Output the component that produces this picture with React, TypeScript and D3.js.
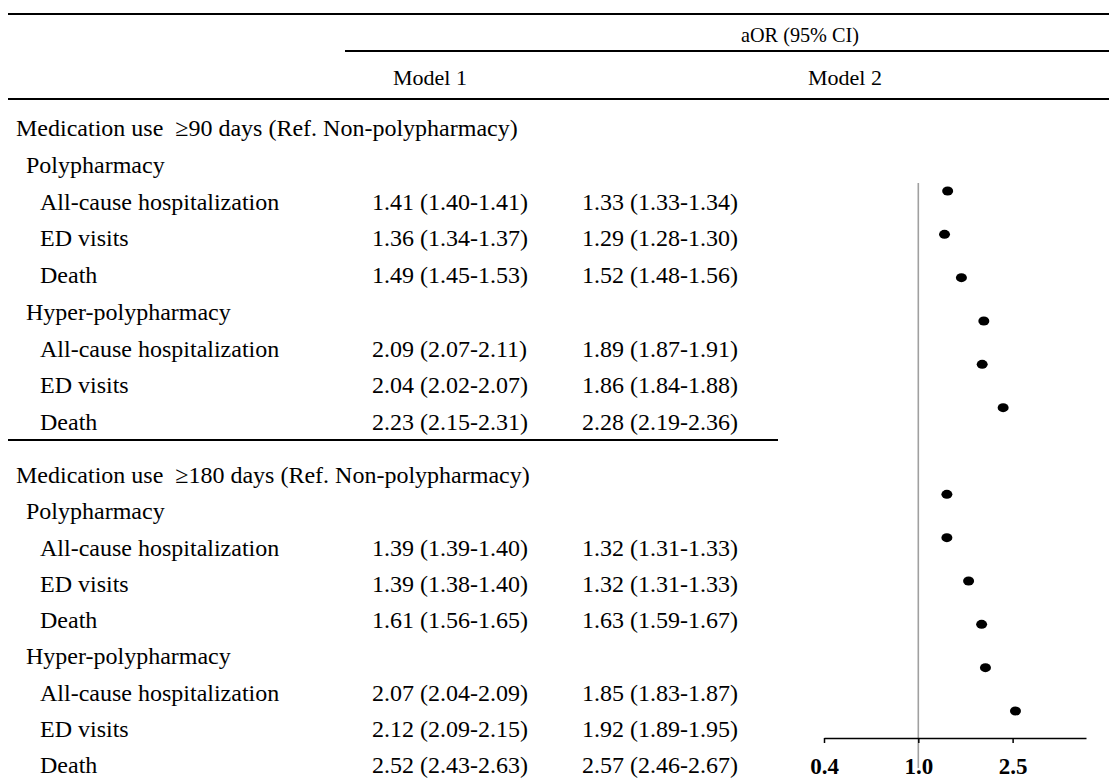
import React, { useEffect, useRef } from 'react';
import * as d3 from 'd3';

const sections = [
  'Medication use  \u226590 days (Ref. Non-polypharmacy)',
  'Medication use  \u2265180 days (Ref. Non-polypharmacy)',
];
const groups = ['Polypharmacy', 'Hyper-polypharmacy'];
const outcomes = ['All-cause hospitalization', 'ED visits', 'Death'];

// section 1 polypharmacy, hyper; section 2 polypharmacy, hyper
const m1Est = [1.41, 1.36, 1.49, 2.09, 2.04, 2.23, 1.39, 1.39, 1.61, 2.07, 2.12, 2.52];
const m1Lo = [1.40, 1.34, 1.45, 2.07, 2.02, 2.15, 1.39, 1.38, 1.56, 2.04, 2.09, 2.43];
const m1Hi = [1.41, 1.37, 1.53, 2.11, 2.07, 2.31, 1.40, 1.40, 1.65, 2.09, 2.15, 2.63];
const m2Est = [1.33, 1.29, 1.52, 1.89, 1.86, 2.28, 1.32, 1.32, 1.63, 1.85, 1.92, 2.57];
const m2Lo = [1.33, 1.28, 1.48, 1.87, 1.84, 2.19, 1.31, 1.31, 1.59, 1.83, 1.89, 2.46];
const m2Hi = [1.34, 1.30, 1.56, 1.91, 1.88, 2.36, 1.33, 1.33, 1.67, 1.87, 1.95, 2.67];

const headerTop = 'aOR (95% CI)';
const modelNames = ['Model 1', 'Model 2'];
const axisTicks = [0.4, 1.0, 2.5];

const fmt = (e: number, lo: number, hi: number) =>
  `${e.toFixed(2)} (${lo.toFixed(2)}-${hi.toFixed(2)})`;

export default function App() {
  const ref = useRef<SVGSVGElement>(null);

  useEffect(() => {
    const w = 1117;
    const h = 778;
    const svg = d3.select(ref.current);
    svg.selectAll('*').remove();
    svg.attr('width', w).attr('height', h);

    const font = '"Liberation Serif", "Times New Roman", serif';
    const fs = 24;

    const line = (x1: number, x2: number, y: number, sw = 2.2) =>
      svg.append('line').attr('x1', x1).attr('x2', x2).attr('y1', y).attr('y2', y)
        .attr('stroke', '#000').attr('stroke-width', sw);

    const text = (x: number, y: number, s: string, anchor = 'start', size = fs) =>
      svg.append('text').attr('x', x).attr('y', y).attr('text-anchor', anchor)
        .attr('font-family', font).attr('font-size', size).attr('fill', '#000')
        .style('white-space', 'pre').text(s);

    // header
    line(5, w, 14);
    line(345, w, 51);
    line(5, w, 99);
    text(800, 42, headerTop, 'middle', 22)
      .attr('textLength', 118).attr('lengthAdjust', 'spacingAndGlyphs');
    [430, 845].forEach((cx, i) => {
      text(cx, 85, modelNames[i], 'middle', 22);
    });

    // table rows
    const colLabel = [16, 26, 40];
    const col1 = 372;
    const col2 = 582;
    const sectionTop = [128, 475];
    const sectionStep = [36.75, 36.25];

    sections.forEach((sec, si) => {
      let r = 0;
      const by = (k: number) => sectionTop[si] + k * sectionStep[si] + 8;
      text(colLabel[0], by(r++), sec);
      groups.forEach((g, gi) => {
        text(colLabel[1], by(r++), g);
        outcomes.forEach((o, oi) => {
          const idx = si * 6 + gi * 3 + oi;
          const y = by(r++);
          text(colLabel[2], y, o);
          text(col1, y, fmt(m1Est[idx], m1Lo[idx], m1Hi[idx]));
          text(col2, y, fmt(m2Est[idx], m2Lo[idx], m2Hi[idx]));
        });
      });
    });
    line(5, 778, 440);

    // forest plot of Model 2 estimates
    const x = d3.scaleLog().domain([0.4, 5.1]).range([824, 1086]);
    const slots = d3.range(13);
    const y = d3.scalePoint<number>().domain(slots).range([191, 711]);
    const slotOf = (i: number) => (i < 6 ? i : i + 1);
    const axisY = 738;

    svg.append('line')
      .attr('x1', x(1)).attr('x2', x(1))
      .attr('y1', 183).attr('y2', 768)
      .attr('stroke', '#a0a0a0').attr('stroke-width', 1.6);

    svg.append('g').selectAll('ellipse')
      .data(m2Est)
      .enter()
      .append('ellipse')
      .attr('cx', (d) => x(d))
      .attr('cy', (d, i) => y(slotOf(i)) as number)
      .attr('rx', 5.5)
      .attr('ry', 4.5)
      .attr('fill', '#000');

    const axis = svg.append('g')
      .attr('transform', `translate(0,${axisY})`)
      .call(d3.axisBottom(x).tickValues(axisTicks).tickSize(5).tickSizeOuter(0)
        .tickFormat((d) => (d as number).toFixed(1)));
    axis.select('.domain').attr('stroke', '#000').attr('stroke-width', 1.5);
    axis.selectAll('.tick line').attr('stroke', '#000').attr('stroke-width', 1.5);
    axis.selectAll('.tick text')
      .attr('font-family', font).attr('font-size', 23).attr('font-weight', 'bold')
      .attr('fill', '#000').attr('dy', 0).attr('y', 36);
  }, []);

  return (
    <div>
      <svg ref={ref} style={{ display: 'block', marginLeft: -8, marginTop: -8 }} />
    </div>
  );
}
